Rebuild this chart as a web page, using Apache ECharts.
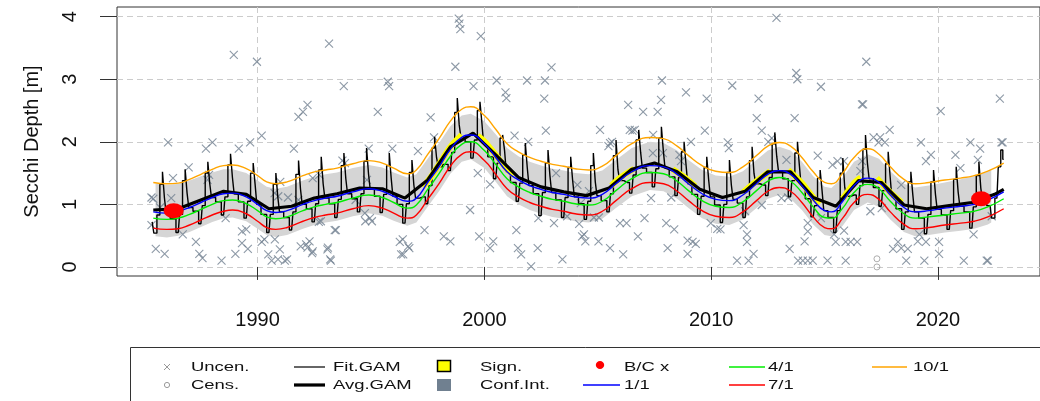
<!DOCTYPE html>
<html><head><meta charset="utf-8">
<script src="https://cdn.jsdelivr.net/npm/echarts@6/dist/echarts.min.js"></script>
<style>html,body{margin:0;padding:0;background:#fff}#c{width:1040px;height:401px}</style>
</head><body><div id="c"></div>
<script>
// ---------- data ----------
const xTicks = [1990, 2000, 2010, 2020];
const yTicks = [0, 1, 2, 3, 4];

const uncen = [
[1985.32,1.11],[1985.4,1.09],[1985.7,0.95],[1986.19,1.10],[1986.05,1.99],[1987.72,1.89],[1988.01,1.99],[1989.17,1.89],[1989.67,1.99],[1990.18,2.10],
[1986.96,1.59],[1987.79,1.39],[1986.27,1.42],[1987.86,1.47],[1985.32,0.67],[1986.7,0.52],[1987.28,0.40],[1985.51,0.29],[1985.9,0.21],[1987.43,0.21],
[1987.57,0.14],[1988.41,0.10],[1989.02,0.21],[1989.31,0.38],[1989.57,0.29],[1989.31,0.57],[1988.59,0.78],[1990.18,0.40],[1990.47,0.20],[1990.62,0.10],
[1989.5,0.60],[1988.95,3.39],[1989.97,3.28],
[1991.6,1.89],[1991.8,2.40],[1992.0,2.48],[1992.2,2.59],[1993.15,3.57],[1993.8,2.89],[1993.85,1.66],[1990.3,0.44],[1990.9,0.12],[1991.3,0.12],
[1991.9,0.33],[1992.2,0.31],[1992.4,0.22],[1993.1,0.31],[1993.2,0.12],[1993.4,0.59],[1992.7,0.72],[1991.8,1.07],[1990.75,1.18],[1991.0,1.36],
[1995.74,2.96],[1995.80,2.89],[1995.30,2.48],[1994.9,1.89],[1995.94,1.89],[1993.74,1.70],[1997.07,1.85],[1992.43,1.42],[1992.72,1.47],[1990.91,1.13],
[1991.34,1.11],[1994.82,1.39],[1994.75,0.73],[1995.04,0.73],[1992.79,0.73],[1993.45,0.59],[1997.36,0.59],[1990.76,0.44],[1992.14,0.36],[1992.29,0.41],
[1992.43,0.25],[1993.08,0.28],[1990.98,0.28],[1991.2,0.10],[1993.23,0.10],[1996.27,0.40],[1996.64,0.33],[1996.42,0.20],[1994.32,1.07],
[1994.95,0.78],[1994.73,0.86],[1996.4,0.44],[1996.69,0.30],[1996.33,0.20],[1998.21,0.49],[1998.5,0.41],[1997.63,2.39],[1997.78,2.07],[1998.72,3.20],
[1998.87,3.97],[1998.90,3.89],[1998.94,3.80],[1999.84,3.69],[1999.52,2.89],[2000.54,2.98],[2001.88,2.98],[2002.67,2.98],[2000.93,2.79],[2000.97,2.70],
[2002.64,2.69],[2002.96,3.19],[2001.33,2.10],[2002.71,2.18],[1999.37,0.91],[1999.71,1.50],[2000.25,1.32],[2001.41,0.59],[1999.77,0.49],[2000.39,0.41],
[2000.25,0.30],[2001.48,0.30],[2001.62,0.20],[2002.06,0.01],[2002.35,0.30],[2003.44,0.12],[2002.38,0.78],[2003.07,0.70],[2003.65,0.81],[2004.31,0.49],
[2004.45,0.41],[2005.03,0.41],[2005.54,0.30],[2006.12,0.20],[2005.1,2.19],[2005.54,1.98],[2005.47,1.93],[2006.34,2.59],[2007.0,2.48],[2007.64,2.48],
[2007.79,2.67],[2007.83,2.98],[2007.43,1.82],[2006.41,2.19],[2006.63,2.19],[2005.98,0.70],[2006.27,0.70],[2007.06,0.78],[2006.77,0.49],[2008.08,0.30],
[2008.37,0.60],[2007.35,1.10],[2001.93,2.0],[2003.16,1.50],
[2008.89,2.79],[2009.8,2.69],[2006.53,2.18],[2009.72,2.18],[2007.44,2.11],[2005.63,2.0],[2009.11,2.0],[2007.87,1.82],[2008.6,1.79],[2008.67,1.69],
[2010.73,1.99],[2010.78,1.90],[2004.1,1.31],[2004.61,1.21],[2004.18,0.69],[2004.83,0.79],[2005.05,0.79],[2004.39,0.52],[2008.02,0.70],[2008.24,1.11],
[2008.96,0.42],[2009.18,0.40],[2009.32,0.37],[2008.96,0.21],[2009.98,0.70],[2010.27,0.61],[2010.41,0.60],[2004.25,1.02],
[2012.88,3.98],[2016.84,3.28],[2013.75,3.10],[2013.8,3.0],[2014.84,2.88],[2010.93,2.90],[2012.09,2.69],[2016.65,2.60],[2016.7,2.60],[2012.01,2.38],
[2013.68,2.38],[2012.23,2.18],[2012.67,2.06],[2012.52,2.0],[2014.7,1.78],[2015.57,1.69],[2015.35,1.63],[2015.86,1.69],[2016.65,1.69],[2017.16,2.07],
[2017.45,2.07],[2017.38,1.99],[2013.32,1.71],[2016.58,1.53],[2011.5,0.89],[2011.43,0.67],[2011.58,0.52],[2011.58,0.40],[2011.87,0.21],[2011.14,0.10],
[2011.65,0.10],[2012.23,0.99],[2013.1,1.10],[2013.39,1.11],[2013.46,0.29],[2014.12,0.41],[2013.83,0.10],[2014.04,0.10],[2014.26,0.10],[2014.48,0.10],
[2014.26,0.70],[2014.26,0.57],[2014.84,0.78],[2015.13,0.10],[2015.42,0.52],[2015.49,0.40],[2015.86,0.58],[2015.93,0.40],[2016.15,0.40],[2016.44,0.40],
[2015.93,0.10],[2017.02,0.89],[2017.52,0.94],
[2022.73,2.69],[2020.12,2.49],[2017.87,2.19],[2017.66,1.99],[2019.25,1.99],[2021.43,1.99],[2021.86,1.89],[2022.8,1.99],[2022.85,1.99],[2019.47,1.69],
[2019.69,1.79],[2020.77,1.79],[2020.99,1.58],[2021.76,1.71],[2018.38,1.31],[2018.24,0.40],[2018.02,0.29],[2018.38,0.30],[2018.67,0.29],[2019.11,0.41],
[2019.47,0.40],[2019.18,0.52],[2020.05,0.40],[2020.05,0.21],[2018.6,0.10],[2019.4,0.10],[2021.14,0.10],[2021.57,0.52],[2022.15,0.10],[2022.2,0.10],
[2022.37,0.81]
];
const cens = [[2017.31,0.13],[2017.31,0.0]];

const curveYears = [1985.4,1986.0,1986.5,1987.0,1987.5,1988.0,1988.5,1988.9,1989.5,1990.0,1990.4,1990.8,1991.3,1992.0,1992.5,1993.0,1993.5,1994.2,1994.9,1995.5,
1996.0,1996.6,1997.0,1997.5,1998.0,1998.5,1999.0,1999.4,2000.0,2000.5,2001.0,2001.5,2002.0,2002.5,2003.0,2003.5,2004.0,2004.6,2005.2,2005.8,
2006.5,2007.3,2007.9,2008.5,2009.0,2009.6,2010.2,2010.8,2011.4,2012.0,2012.5,2013.0,2013.5,2014.0,2014.5,2015.0,2015.3,2015.8,2016.3,2016.9,
2017.4,2017.9,2018.5,2019.0,2019.6,2020.3,2021.0,2021.6,2022.2,2022.9];
const line1_1 = [0.88,0.86,0.89,0.95,1.03,1.11,1.17,1.18,1.12,1.00,0.90,0.87,0.90,1.00,1.06,1.10,1.13,1.20,1.25,1.21,
1.13,1.05,1.10,1.35,1.60,1.88,2.07,2.11,1.97,1.75,1.52,1.39,1.30,1.24,1.19,1.16,1.12,1.10,1.16,1.33,
1.52,1.62,1.60,1.48,1.33,1.17,1.08,1.06,1.15,1.33,1.48,1.54,1.48,1.30,1.07,0.90,0.88,1.05,1.30,1.42,
1.35,1.15,0.95,0.88,0.90,0.94,0.97,1.00,1.07,1.20];
const line4_1 = [0.78,0.76,0.78,0.84,0.92,1.00,1.06,1.07,1.01,0.90,0.80,0.77,0.80,0.90,0.96,1.00,1.03,1.10,1.15,1.11,
1.03,0.94,0.99,1.24,1.49,1.77,1.96,2.00,1.86,1.64,1.41,1.28,1.19,1.13,1.08,1.05,1.01,0.99,1.05,1.22,
1.41,1.51,1.49,1.37,1.22,1.06,0.97,0.95,1.04,1.22,1.37,1.43,1.37,1.19,0.96,0.79,0.78,0.94,1.19,1.32,
1.25,1.05,0.85,0.78,0.80,0.83,0.86,0.89,0.96,1.09];
const line7_1 = [0.62,0.60,0.61,0.67,0.75,0.83,0.89,0.91,0.85,0.73,0.63,0.60,0.63,0.73,0.79,0.83,0.86,0.93,0.98,0.94,
0.86,0.78,0.83,1.08,1.33,1.61,1.80,1.84,1.70,1.48,1.25,1.12,1.03,0.97,0.92,0.89,0.85,0.83,0.89,1.06,
1.25,1.35,1.33,1.21,1.06,0.90,0.81,0.79,0.88,1.06,1.21,1.27,1.21,1.03,0.80,0.63,0.61,0.78,1.03,1.16,
1.08,0.88,0.68,0.61,0.63,0.67,0.70,0.73,0.80,0.93];
const line10_1 = [1.35,1.33,1.34,1.40,1.48,1.56,1.62,1.63,1.57,1.46,1.36,1.33,1.36,1.46,1.52,1.55,1.58,1.65,1.70,1.66,
1.58,1.49,1.55,1.80,2.05,2.33,2.52,2.56,2.42,2.20,1.97,1.84,1.75,1.69,1.64,1.61,1.57,1.55,1.61,1.78,
1.97,2.07,2.05,1.93,1.78,1.62,1.53,1.51,1.60,1.78,1.93,1.99,1.93,1.75,1.52,1.35,1.33,1.50,1.75,1.89,
1.80,1.60,1.40,1.33,1.35,1.39,1.42,1.46,1.53,1.66];

const bandYears = [1985.5,1986.0,1986.5,1987.0,1987.5,1988.0,1988.5,1988.9,1989.5,1990.0,1990.4,1990.8,1991.3,1992.0,1992.5,1993.0,1993.5,1994.2,1994.9,1995.5,
1996.0,1996.6,1997.0,1997.5,1998.0,1998.5,1999.0,1999.4,2000.0,2000.5,2001.0,2001.5,2002.0,2002.5,2003.0,2003.5,2004.0,2004.6,2005.2,2005.8,
2006.5,2007.3,2007.9,2008.5,2009.0,2009.6,2010.2,2010.8,2011.4,2012.0,2012.5,2013.0,2013.5,2014.0,2014.5,2015.0,2015.3,2015.8,2016.3,2016.9,
2017.4,2017.9,2018.5,2019.0,2019.6,2020.3,2021.0,2021.6,2022.2,2022.35];
const bandHigh = [1.33,1.31,1.33,1.38,1.45,1.51,1.56,1.56,1.50,1.38,1.28,1.25,1.28,1.38,1.44,1.48,1.51,1.58,1.63,1.59,
1.51,1.43,1.48,1.73,1.98,2.25,2.42,2.45,2.33,2.12,1.90,1.77,1.68,1.62,1.57,1.54,1.50,1.48,1.54,1.71,
1.90,2.00,1.98,1.86,1.71,1.55,1.46,1.44,1.53,1.71,1.86,1.92,1.86,1.68,1.45,1.28,1.26,1.43,1.68,1.80,
1.73,1.53,1.33,1.27,1.30,1.35,1.40,1.45,1.52,1.55];
const bandLow = [0.49,0.47,0.50,0.56,0.64,0.72,0.78,0.79,0.73,0.61,0.51,0.48,0.51,0.61,0.67,0.71,0.74,0.81,0.86,0.82,
0.74,0.66,0.71,0.96,1.21,1.49,1.68,1.72,1.58,1.36,1.13,1.00,0.91,0.85,0.80,0.77,0.73,0.71,0.77,0.94,
1.13,1.23,1.21,1.09,0.94,0.78,0.69,0.67,0.76,0.94,1.09,1.15,1.09,0.91,0.68,0.51,0.49,0.66,0.91,1.03,
0.96,0.76,0.56,0.49,0.51,0.55,0.58,0.61,0.68,0.71];

const fitGam = [
[1985.35,0.72],[1985.5,0.54],[1985.62,0.83],[1985.76,1.32],[1985.85,1.52],[1985.93,1.11],
[1986,0.86],[1986.3,0.77],[1986.5,0.55],[1986.62,0.84],[1986.76,1.38],[1986.85,1.56],[1986.93,1.18],
[1987,0.95],[1987.3,0.89],[1987.5,0.69],[1987.62,0.98],[1987.76,1.50],[1987.85,1.68],[1987.93,1.33],
[1988,1.11],[1988.3,1.04],[1988.5,0.83],[1988.62,1.12],[1988.76,1.63],[1988.85,1.81],[1988.93,1.43],
[1989,1.17],[1989.3,1.04],[1989.5,0.78],[1989.62,1.05],[1989.76,1.50],[1989.85,1.66],[1989.93,1.32],
[1990,1.0],[1990.3,0.84],[1990.5,0.55],[1990.62,0.84],[1990.76,1.32],[1990.85,1.50],[1990.93,1.12],
[1991,0.88],[1991.3,0.79],[1991.5,0.59],[1991.62,0.88],[1991.76,1.48],[1991.85,1.70],[1991.93,1.25],
[1992,1.0],[1992.3,0.93],[1992.5,0.72],[1992.62,1.01],[1992.76,1.55],[1992.85,1.76],[1992.93,1.33],
[1993,1.10],[1993.3,1.01],[1993.5,0.79],[1993.62,1.08],[1993.76,1.62],[1993.85,1.82],[1993.93,1.41],
[1994,1.17],[1994.3,1.09],[1994.5,0.88],[1994.62,1.17],[1994.76,1.69],[1994.85,1.90],[1994.93,1.49],
[1995,1.24],[1995.3,1.13],[1995.5,0.87],[1995.62,1.16],[1995.76,1.62],[1995.85,1.82],[1995.93,1.42],
[1996,1.13],[1996.3,1.0],[1996.5,0.70],[1996.62,1.01],[1996.76,1.51],[1996.85,1.71],[1996.93,1.31],
[1997,1.10],[1997.3,1.12],[1997.5,1.01],[1997.62,1.30],[1997.76,1.90],[1997.85,2.08],[1997.93,1.75],
[1998,1.60],[1998.3,1.64],[1998.5,1.54],[1998.62,1.83],[1998.76,2.47],[1998.85,2.70],[1998.93,2.27],
[1999,2.07],[1999.3,2.0],[1999.5,1.74],[1999.62,2.03],[1999.76,2.50],[1999.85,2.64],[1999.93,2.30],
[2000,1.97],[2000.3,1.76],[2000.5,1.41],[2000.62,1.66],[2000.76,2.06],[2000.85,2.11],[2000.93,1.86],
[2001,1.52],[2001.3,1.35],[2001.5,1.05],[2001.62,1.34],[2001.76,1.79],[2001.85,1.98],[2001.93,1.59],
[2002,1.30],[2002.3,1.17],[2002.5,0.82],[2002.62,1.19],[2002.76,1.66],[2002.85,1.87],[2002.93,1.46],
[2003,1.19],[2003.3,1.07],[2003.5,0.79],[2003.62,1.11],[2003.76,1.59],[2003.85,1.76],[2003.93,1.39],
[2004,1.12],[2004.3,1.01],[2004.5,0.76],[2004.62,1.05],[2004.76,1.62],[2004.85,1.82],[2004.93,1.36],
[2005,1.14],[2005.3,1.06],[2005.5,0.88],[2005.62,1.17],[2005.76,1.78],[2005.85,2.03],[2005.93,1.55],
[2006,1.38],[2006.3,1.35],[2006.5,1.18],[2006.62,1.47],[2006.76,2.03],[2006.85,2.19],[2006.93,1.83],
[2007,1.58],[2007.3,1.51],[2007.5,1.28],[2007.62,1.57],[2007.76,2.06],[2007.85,2.24],[2007.93,1.86],
[2008,1.58],[2008.3,1.44],[2008.5,1.14],[2008.62,1.43],[2008.76,1.84],[2008.85,2.0],[2008.93,1.64],
[2009,1.33],[2009.3,1.16],[2009.5,0.84],[2009.62,1.13],[2009.76,1.59],[2009.85,1.76],[2009.93,1.39],
[2010,1.12],[2010.3,0.99],[2010.5,0.71],[2010.62,1.0],[2010.76,1.51],[2010.85,1.71],[2010.93,1.31],
[2011,1.08],[2011.3,1.02],[2011.5,0.79],[2011.62,1.12],[2011.76,1.70],[2011.85,1.92],[2011.93,1.49],
[2012,1.33],[2012.3,1.31],[2012.5,1.14],[2012.62,1.43],[2012.76,1.97],[2012.85,2.15],[2012.93,1.77],
[2013,1.54],[2013.3,1.41],[2013.5,1.12],[2013.62,1.38],[2013.76,1.82],[2013.85,2.0],[2013.93,1.62],
[2014,1.30],[2014.3,1.09],[2014.5,0.80],[2014.62,0.98],[2014.76,1.42],[2014.85,1.55],[2014.93,1.22],
[2015,0.90],[2015.3,0.79],[2015.5,0.55],[2015.62,0.90],[2015.76,1.50],[2015.85,1.74],[2015.93,1.27],
[2016,1.13],[2016.3,1.15],[2016.5,1.0],[2016.62,1.30],[2016.76,1.88],[2016.85,2.11],[2016.93,1.66],
[2017,1.41],[2017.3,1.27],[2017.5,0.97],[2017.62,1.22],[2017.76,1.65],[2017.85,1.84],[2017.93,1.45],
[2018,1.12],[2018.3,0.93],[2018.5,0.60],[2018.62,0.88],[2018.76,1.36],[2018.85,1.52],[2018.93,1.16],
[2019,0.88],[2019.3,0.78],[2019.5,0.53],[2019.62,0.84],[2019.76,1.36],[2019.85,1.55],[2019.93,1.16],
[2020,0.92],[2020.3,0.83],[2020.5,0.60],[2020.62,0.90],[2020.76,1.40],[2020.85,1.60],[2020.93,1.20],
[2021,0.97],[2021.3,0.88],[2021.5,0.62],[2021.62,0.96],[2021.76,1.46],[2021.85,1.68],[2021.93,1.26],
[2022,1.05],[2022.3,0.98],[2022.42,0.78],[2022.6,1.10],[2022.72,1.60],[2022.82,1.87],[2022.9,1.72]
];

const avgYears = [1985.4,1986.5,1987.5,1988.5,1989.5,1990.5,1991.5,1992.5,1993.5,1994.5,1995.5,1996.5,1997.5,1998.5,1999.5,2000.5,2001.5,2002.5,2003.5,2004.5,
2005.5,2006.5,2007.5,2008.5,2009.5,2010.5,2011.5,2012.5,2013.5,2014.5,2015.5,2016.5,2017.5,2018.5,2019.5,2020.5,2021.5,2022.5,2022.9];
const avgGam = [0.91,0.93,1.07,1.21,1.16,0.93,0.97,1.10,1.17,1.26,1.25,1.10,1.39,1.92,2.14,1.79,1.43,1.28,1.20,1.14,
1.26,1.56,1.66,1.52,1.24,1.11,1.21,1.52,1.52,1.11,0.97,1.38,1.35,0.99,0.93,0.98,1.03,1.16,1.24];

const signSegments = [
  [[1997.3,1.28],[1997.6,1.42],[1998.0,1.64],[1998.5,1.92],[1999.0,2.11]],
  [[1999.7,2.10],[2000.0,2.01],[2000.5,1.79],[2001.0,1.56],[2001.3,1.47]],
  [[2005.6,1.30],[2006.0,1.43],[2006.6,1.57]],
  [[2008.3,1.56],[2008.8,1.44],[2009.3,1.29]],
  [[2011.4,1.19],[2012.0,1.37],[2012.6,1.53]],
  [[2013.4,1.55],[2014.0,1.34],[2014.5,1.11],[2014.8,1.01]],
  [[2015.8,1.09],[2016.3,1.34],[2016.6,1.43]],
  [[2017.3,1.42],[2017.9,1.19],[2018.4,1.03]]
];
const bcPoints = [[1986.3,0.90],[2021.9,1.09]];

// ---------- chart ----------
const FONT = '"Liberation Sans", Arial, sans-serif';
const pair = (xs, ys) => xs.map((x, i) => [x, ys[i]]);
const signData = [];
signSegments.forEach((seg, k) => { if (k) signData.push([seg[0][0] - 0.01, '-']); seg.forEach(p => signData.push(p)); });

const curve = (name, ys, color) => ({
  name, type: 'line', data: pair(curveYears, ys), smooth: 0.5, symbol: 'none',
  lineStyle: { color, width: 1.4 }, z: 6, silent: true
});

// legend (R-style boxed legend drawn as graphics)
const R1 = 367, R2 = 385;
const legendText = (t, x, y) => ({ type: 'text', x, y, scaleX: 1.42, style: { text: t, font: '13px ' + FONT, fill: '#111', verticalAlign: 'middle' } });
const legendLine = (x1, x2, y, color, w) => ({ type: 'line', shape: { x1, y1: y, x2, y2: y }, style: { stroke: color, lineWidth: w } });
const graphic = [
  { type: 'rect', shape: { x: 130.5, y: 347.5, width: 1000, height: 100 }, style: { fill: 'none', stroke: '#333', lineWidth: 1 } },
  { type: 'line', shape: { x1: 164, y1: R1 - 3, x2: 170, y2: R1 + 3 }, style: { stroke: '#999', lineWidth: 1 } },
  { type: 'line', shape: { x1: 170, y1: R1 - 3, x2: 164, y2: R1 + 3 }, style: { stroke: '#999', lineWidth: 1 } },
  { type: 'circle', shape: { cx: 167, cy: R2, r: 2.6 }, style: { fill: 'none', stroke: '#999', lineWidth: 1 } },
  legendText('Uncen.', 191, R1), legendText('Cens.', 191, R2),
  legendLine(294, 325, R1, '#000', 1.2), legendLine(294, 325, R2, '#000', 3.2),
  legendText('Fit.GAM', 333, R1), legendText('Avg.GAM', 333, R2),
  { type: 'rect', shape: { x: 437.5, y: R1 - 6.5, width: 13, height: 11 }, style: { fill: '#ffff00', stroke: '#000', lineWidth: 1.5 } },
  { type: 'rect', shape: { x: 437, y: R2 - 6, width: 14, height: 12 }, style: { fill: '#708090' } },
  legendText('Sign.', 480, R1), legendText('Conf.Int.', 480, R2),
  { type: 'ellipse', shape: { cx: 600, cy: R1 - 2, rx: 4.2, ry: 4 }, style: { fill: '#ff0000' } },
  legendLine(583, 620, R2, '#0000ff', 1.4),
  legendText('B/C x', 624, R1), legendText('1/1', 624, R2),
  legendLine(729, 765, R1, '#00ee00', 1.4), legendLine(729, 765, R2, '#ff0000', 1.4),
  legendText('4/1', 768, R1), legendText('7/1', 768, R2),
  legendLine(872, 907, R1, '#ffa500', 1.4),
  legendText('10/1', 913, R1)
];

const option = {
  animation: false,
  textStyle: { fontFamily: FONT },
  grid: { left: 117, top: 7, right: -12, bottom: 125, show: true, borderColor: '#333', borderWidth: 1, backgroundColor: 'transparent' },
  xAxis: {
    type: 'value', min: 1983.8, max: 2024.5,
    axisLine: { show: false },
    axisTick: { show: true, customValues: xTicks, length: 13, lineStyle: { color: '#333', width: 1 } },
    axisLabel: { customValues: xTicks, fontSize: 20, color: '#111', margin: 34, fontFamily: FONT, formatter: v => String(v) },
    splitLine: { show: true, lineStyle: { color: '#cccccc', type: [6, 4], width: 1 } }
  },
  yAxis: {
    type: 'value', min: -0.145, max: 4.155,
    name: 'Secchi Depth [m]', nameLocation: 'middle', nameGap: 75,
    nameTextStyle: { fontSize: 20, color: '#111', fontFamily: FONT },
    axisLine: { show: false },
    axisTick: { show: true, customValues: yTicks, length: 17, lineStyle: { color: '#333', width: 1 } },
    axisLabel: { customValues: yTicks, fontSize: 20, color: '#111', rotate: 90, margin: 37, fontFamily: FONT, formatter: v => String(v) },
    splitLine: { show: true, lineStyle: { color: '#cccccc', type: [6, 4], width: 1 } }
  },
  graphic,
  series: [
    { name: 'Conf.Int.', type: 'custom', data: bandYears.map((x, i) => [x, bandLow[i], bandHigh[i]]),
      encode: { x: 0, y: [1, 2] }, clip: true, silent: true, z: 1,
      renderItem: (params, api) => {
        if (params.dataIndex !== 0) return null;
        const up = bandYears.map((x, i) => api.coord([x, bandHigh[i]]));
        const lo = bandYears.map((x, i) => api.coord([x, bandLow[i]])).reverse();
        return { type: 'polygon', shape: { points: up.concat(lo) }, style: { fill: '#d5d5d5' } };
      } },
    { name: 'Uncen.', type: 'scatter', data: uncen, symbol: 'path://M0,0L10,10M10,0L0,10', symbolSize: 8,
      itemStyle: { color: 'rgba(0,0,0,0)', borderColor: '#708090', borderWidth: 1.1 }, z: 2, silent: true },
    { name: 'Cens.', type: 'scatter', data: cens, symbol: 'circle', symbolSize: 6,
      itemStyle: { color: 'rgba(0,0,0,0)', borderColor: '#999999', borderWidth: 1 }, z: 2, silent: true },
    { name: 'Fit.GAM', type: 'line', data: fitGam, step: 'middle', symbol: 'none', lineStyle: { color: '#000', width: 1.4 }, z: 3, silent: true },
    { name: 'Sign.', type: 'line', data: signData, smooth: 0.3, symbol: 'none', connectNulls: false, lineStyle: { color: '#ffff00', width: 6 }, z: 4, silent: true },
    { name: 'Avg.GAM', type: 'line', data: pair(avgYears, avgGam), symbol: 'none', lineStyle: { color: '#000', width: 3.2 }, z: 5, silent: true },
    curve('1/1', line1_1, '#0000ff'),
    curve('4/1', line4_1, '#00ee00'),
    curve('7/1', line7_1, '#ff0000'),
    curve('10/1', line10_1, '#ffa500'),
    { name: 'B/C x', type: 'scatter', data: bcPoints, symbol: 'circle', symbolSize: [20, 15], itemStyle: { color: '#ff0000', opacity: 1 }, z: 9, silent: true }
  ]
};
const chart = echarts.init(document.getElementById('c'), null, { renderer: 'canvas' });
chart.setOption(option);
</script>
</body></html>
